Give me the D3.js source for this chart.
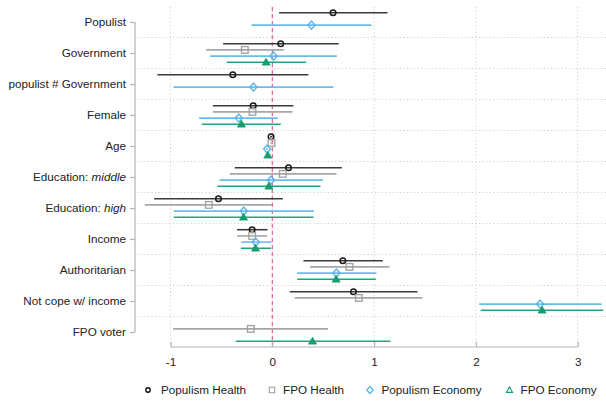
<!DOCTYPE html>
<html>
<head>
<meta charset="utf-8">
<script src="https://cdn.jsdelivr.net/npm/d3@7"></script>
<style>
  html, body { margin: 0; padding: 0; background: #fff; }
  svg { display: block; font-family: "Liberation Sans", Arial, sans-serif; }
</style>
</head>
<body>
<svg id="chart" width="606" height="401"></svg>
<script>
// Coefficient labels, top to bottom
const terms = ["Populist", "Government", "populist # Government", "Female", "Age",
  "Education: middle", "Education: high", "Income", "Authoritarian",
  "Not cope w/ income", "FPO voter"];

const seriesNames = ["Populism Health", "FPO Health", "Populism Economy", "FPO Economy"];

// Point estimates and 95% intervals per model (null = term not in model)
const popHealthEst = [0.597, 0.083, -0.388, -0.188, -0.012, 0.159, -0.529, -0.198, 0.693, 0.797, null];
const popHealthLo  = [0.067, -0.483, -1.128, -0.584, -0.022, -0.368, -1.161, -0.346, 0.306, 0.172, null];
const popHealthHi  = [1.132, 0.653, 0.355, 0.208, -0.002, 0.683, 0.103, -0.047, 1.085, 1.426, null];

const fpoHealthEst = [null, -0.270, null, -0.195, -0.008, 0.103, -0.624, -0.198, 0.758, 0.850, -0.211];
const fpoHealthLo  = [null, -0.650, null, -0.584, -0.018, -0.417, -1.252, -0.346, 0.371, 0.221, -0.974];
const fpoHealthHi  = [null, 0.113, null, 0.198, 0.002, 0.630, -0.002, -0.050, 1.151, 1.475, 0.548];

const popEconEst = [0.385, 0.012, -0.185, -0.329, -0.051, -0.012, -0.280, -0.162, 0.630, 2.631, null];
const popEconLo  = [-0.204, -0.611, -0.971, -0.719, -0.061, -0.519, -0.968, -0.306, 0.244, 2.032, null];
const popEconHi  = [0.974, 0.634, 0.601, 0.054, -0.041, 0.496, 0.408, -0.008, 1.023, 3.234, null];

const fpoEconEst = [null, -0.061, null, -0.303, -0.044, -0.034, -0.283, -0.165, 0.627, 2.650, 0.395];
const fpoEconLo  = [null, -0.447, null, -0.693, -0.054, -0.539, -0.968, -0.309, 0.244, 2.048, -0.359];
const fpoEconHi  = [null, 0.332, null, 0.083, -0.034, 0.473, 0.405, -0.012, 1.017, 3.250, 1.161];

const xTicks = [-1, 0, 1, 2, 3];

const colors = ["#3a3a3a", "#a6a6a6", "#6cbbee", "#1fa67a"];
const markerColors = ["#1a1a1a", "#a0a0a0", "#56b4e9", "#179d70"];
const offsets = [-9.3, -3.1, 3.1, 9.3];

const series = [
  { name: seriesNames[0], est: popHealthEst, lo: popHealthLo, hi: popHealthHi },
  { name: seriesNames[1], est: fpoHealthEst, lo: fpoHealthLo, hi: fpoHealthHi },
  { name: seriesNames[2], est: popEconEst, lo: popEconLo, hi: popEconHi },
  { name: seriesNames[3], est: fpoEconEst, lo: fpoEconLo, hi: fpoEconHi }
];

const svg = d3.select("#chart");
const W = 606;

const x = d3.scaleLinear().domain([-1, 3]).range([170.5, 577.7]);
const y = d3.scalePoint().domain(terms).range([22, 332]);

const plotTop = 7, plotBottom = 345, plotLeft = 137, plotRight = W;

// Dotted grid: vertical at ticks, horizontal between coefficient groups
const grid = svg.append("g").attr("stroke", "#d0d0d0").attr("stroke-width", 1)
  .attr("stroke-dasharray", "1.2,2.4");
grid.selectAll("line.v").data(xTicks).join("line")
  .attr("x1", d => x(d)).attr("x2", d => x(d))
  .attr("y1", plotTop).attr("y2", plotBottom);
const step = y.step();
grid.selectAll("line.h").data(terms.slice(0, -1)).join("line")
  .attr("x1", plotLeft).attr("x2", plotRight)
  .attr("y1", d => y(d) + step / 2).attr("y2", d => y(d) + step / 2);

// Zero reference line
svg.append("line")
  .attr("x1", x(0)).attr("x2", x(0))
  .attr("y1", plotTop).attr("y2", plotBottom)
  .attr("stroke", "#e0559d").attr("stroke-width", 1.1)
  .attr("stroke-dasharray", "4,3");

// Y axis
const yAxis = svg.append("g").attr("transform", `translate(135,0)`)
  .call(d3.axisLeft(y).tickSize(5).tickPadding(4).tickFormat(""));
yAxis.select(".domain").attr("stroke", "#b3b3b3").attr("stroke-width", 1.2)
  .attr("d", `M0,${y(terms[0])}V${y(terms[terms.length - 1])}`);
yAxis.selectAll(".tick line").attr("stroke", "#b3b3b3").attr("stroke-width", 1.2);

// Y labels (with italic part for education levels)
const ylab = svg.append("g").attr("font-size", 11.7).attr("fill", "#222");
terms.forEach(t => {
  const txt = ylab.append("text").attr("x", 126).attr("y", y(t))
    .attr("text-anchor", "end").attr("dy", "0.35em");
  const m = t.match(/^(Education: )(.*)$/);
  if (m) {
    txt.append("tspan").text(m[1]);
    txt.append("tspan").attr("font-style", "italic").text(m[2]);
  } else {
    txt.text(t);
  }
});

// X axis
const xAxis = svg.append("g").attr("transform", `translate(0,347)`)
  .call(d3.axisBottom(x).tickValues(xTicks).tickSize(-5).tickPadding(11).tickFormat(d3.format("d")));
xAxis.select(".domain").attr("stroke", "#b3b3b3").attr("stroke-width", 1.2)
  .attr("d", `M${x(-1)},0H${x(3)}`);
xAxis.selectAll(".tick line").attr("stroke", "#b3b3b3").attr("stroke-width", 1.2);
xAxis.selectAll(".tick text").attr("font-size", 11.7).attr("fill", "#222")
  .attr("font-family", "Liberation Sans, Arial, sans-serif")
  .text(d => d < 0 ? "-" + Math.abs(d) : d);

// Marker drawing helpers
function drawMarker(g, i, cx, cy) {
  if (i === 0) {
    g.append("circle").attr("cx", cx).attr("cy", cy).attr("r", 2.8)
      .attr("fill", "none").attr("stroke", markerColors[0]).attr("stroke-width", 1.5);
  } else if (i === 1) {
    g.append("rect").attr("x", cx - 3.3).attr("y", cy - 3.3).attr("width", 6.6).attr("height", 6.6)
      .attr("fill", "none").attr("stroke", markerColors[1]).attr("stroke-width", 1.3);
  } else if (i === 2) {
    g.append("path").attr("d", `M${cx},${cy - 4}L${cx + 3.5},${cy}L${cx},${cy + 4}L${cx - 3.5},${cy}Z`)
      .attr("fill", "none").attr("stroke", markerColors[2]).attr("stroke-width", 1.4);
  } else {
    g.append("path").attr("d", `M${cx},${cy - 4}L${cx + 4},${cy + 2.8}L${cx - 4},${cy + 2.8}Z`)
      .attr("fill", markerColors[3]).attr("stroke", markerColors[3]).attr("stroke-width", 0.8);
  }
}

// Intervals and point estimates
const marks = svg.append("g");
series.forEach((s, i) => {
  const g = marks.append("g");
  terms.forEach((t, k) => {
    if (s.est[k] === null) return;
    const cy = y(t) + offsets[i];
    g.append("line")
      .attr("x1", x(s.lo[k])).attr("x2", x(s.hi[k]))
      .attr("y1", cy).attr("y2", cy)
      .attr("stroke", colors[i]).attr("stroke-width", 1.6);
  });
  terms.forEach((t, k) => {
    if (s.est[k] === null) return;
    drawMarker(g, i, x(s.est[k]), y(t) + offsets[i]);
  });
});

// Legend
const legendItems = [
  { mx: 148, tx: 161 },
  { mx: 272, tx: 283 },
  { mx: 370, tx: 381.5 },
  { mx: 509.5, tx: 520.5 }
];
const legend = svg.append("g");
const ly = 390;
seriesNames.forEach((n, i) => {
  const it = legendItems[i];
  const g = legend.append("g");
  if (i === 0) {
    g.append("circle").attr("cx", it.mx).attr("cy", ly).attr("r", 2.2)
      .attr("fill", "none").attr("stroke", "#111").attr("stroke-width", 1.4);
  } else if (i === 1) {
    g.append("rect").attr("x", it.mx - 2.7).attr("y", ly - 2.7).attr("width", 5.4).attr("height", 5.4)
      .attr("fill", "none").attr("stroke", "#a0a0a0").attr("stroke-width", 1.1);
  } else if (i === 2) {
    g.append("path").attr("d", `M${it.mx},${ly - 3.5}L${it.mx + 3.2},${ly}L${it.mx},${ly + 3.5}L${it.mx - 3.2},${ly}Z`)
      .attr("fill", "none").attr("stroke", "#56b4e9").attr("stroke-width", 1.3);
  } else {
    g.append("path").attr("d", `M${it.mx},${ly - 3}L${it.mx + 3},${ly + 2.3}L${it.mx - 3},${ly + 2.3}Z`)
      .attr("fill", "none").attr("stroke", "#179d70").attr("stroke-width", 1.2);
  }
  g.append("text").attr("x", it.tx).attr("y", ly).attr("dy", "0.35em")
    .attr("font-size", 11.7).attr("fill", "#222").text(n);
});
</script>
</body>
</html>
